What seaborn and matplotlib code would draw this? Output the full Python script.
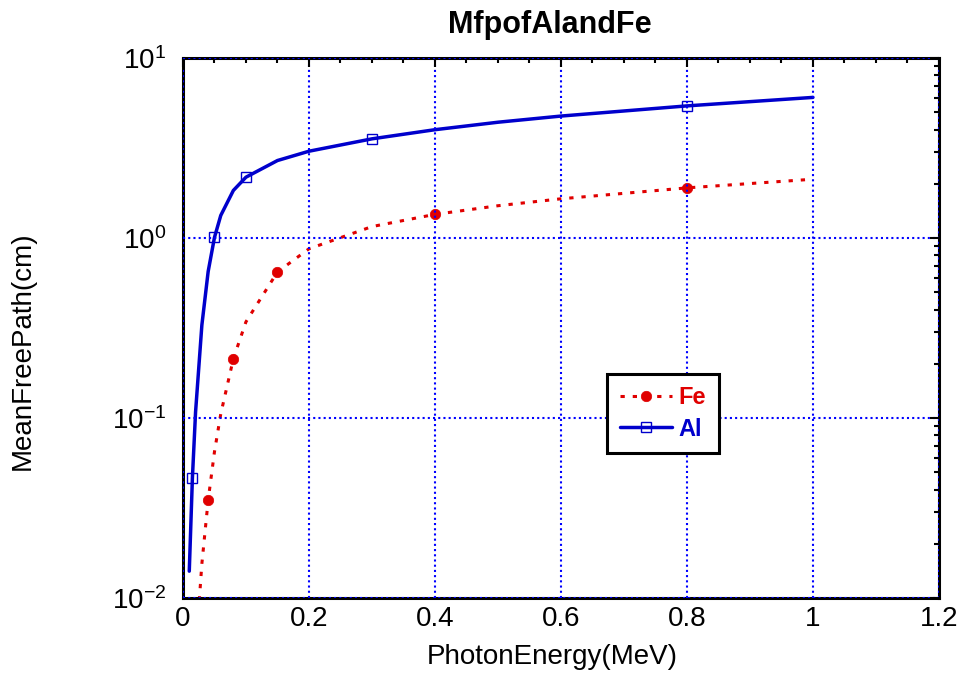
import numpy as np
import pandas as pd
import matplotlib
matplotlib.use("Agg")
import matplotlib.pyplot as plt
import seaborn as sns
from matplotlib.ticker import LogLocator, MultipleLocator, NullFormatter, FormatStrFormatter

# ---- data ----
energy = [0.01, 0.015, 0.02, 0.03, 0.04, 0.05, 0.06, 0.08, 0.1, 0.15,
          0.2, 0.3, 0.4, 0.5, 0.6, 0.8, 1.0]
mfp_al = [0.0141, 0.0466, 0.108, 0.328, 0.651, 1.006, 1.333, 1.835, 2.174,
          2.69, 3.03, 3.55, 3.99, 4.39, 4.75, 5.41, 6.03]
mfp_fe = [0.000745, 0.00223, 0.00495, 0.0155, 0.035, 0.0649, 0.1054, 0.2134,
          0.342, 0.647, 0.870, 1.156, 1.351, 1.509, 1.649, 1.896, 2.118]
al_marks = [1, 5, 8, 11, 15]
fe_marks = [4, 7, 9, 12, 15]
title = "MfpofAlandFe"
xlabel = "PhotonEnergy(MeV)"
ylabel = "MeanFreePath(cm)"
labels = ["Fe", "Al"]

sns.set_style("white")
plt.rcParams["font.family"] = ["Liberation Sans", "DejaVu Sans"]
plt.rcParams["mathtext.default"] = "regular"
plt.rcParams["axes.unicode_minus"] = False
plt.rcParams["text.color"] = "black"
plt.rcParams["axes.labelcolor"] = "black"
plt.rcParams["xtick.color"] = "black"
plt.rcParams["ytick.color"] = "black"

AL_C = "#0000cc"
FE_C = "#e00000"
GRID_C = "#0000ff"

df_al = pd.DataFrame({"energy": energy, "mfp": mfp_al})
df_fe = pd.DataFrame({"energy": energy, "mfp": mfp_fe})

fig = plt.figure(figsize=(9.63, 6.97), dpi=100)
ax = fig.add_axes([0.190, 0.142, 0.785, 0.775])

sns.lineplot(data=df_fe, x="energy", y="mfp", ax=ax, errorbar=None, sort=False,
             color=FE_C, linewidth=2.2, linestyle=(0, (1.4, 2.6)),
             marker="o", markevery=fe_marks, markersize=7.5,
             markerfacecolor=FE_C, markeredgecolor=FE_C, markeredgewidth=0.5)
sns.lineplot(data=df_al, x="energy", y="mfp", ax=ax, errorbar=None, sort=False,
             color=AL_C, linewidth=2.5,
             marker="s", markevery=al_marks, markersize=7,
             markerfacecolor="none", markeredgecolor=AL_C, markeredgewidth=1.0)

ax.set_yscale("log")
ax.set_xlim(0, 1.2)
ax.set_ylim(1e-2, 1e1)
ax.xaxis.set_major_locator(MultipleLocator(0.2))
ax.xaxis.set_minor_locator(MultipleLocator(0.05))
ax.xaxis.set_major_formatter(FormatStrFormatter("%g"))
ax.yaxis.set_major_locator(LogLocator(base=10, numticks=10))
ax.yaxis.set_minor_locator(LogLocator(base=10, subs=np.arange(2, 10), numticks=20))
ax.yaxis.set_minor_formatter(NullFormatter())

ax.grid(True, which="major", color=GRID_C, linestyle=(0, (1, 1.5)), linewidth=1.5)
ax.set_axisbelow(False)

ax.tick_params(which="both", direction="in", top=True, right=True, width=1.5,
               color="black")
ax.tick_params(which="major", length=6.5)
ax.tick_params(which="minor", length=3.6)
ax.tick_params(axis="x", which="major", labelsize=20, pad=6, labelcolor="black")
ax.tick_params(axis="y", which="major", labelsize=20, pad=12, labelcolor="black")

for s in ax.spines.values():
    s.set_visible(True)
    s.set_linewidth(2.2)
    s.set_color("black")

ax.set_title(title, fontsize=22, fontweight="bold", pad=18, color="black", x=0.485)
ax.set_xlabel(xlabel, fontsize=20, color="black")
ax.set_ylabel(ylabel, fontsize=20, color="black")
ax.xaxis.set_label_coords(0.488, -0.085)
ax.yaxis.set_label_coords(-0.195, 0.457)

lines = ax.get_lines()
handles = [lines[0], lines[1]]
leg = ax.legend(handles, labels, loc="upper left", bbox_to_anchor=(0.561, 0.415),
                borderaxespad=0, fancybox=False, framealpha=1, edgecolor="black",
                prop={"size": 17, "weight": "bold"}, handlelength=2.2,
                handletextpad=0.3, labelspacing=0.35, borderpad=0.53)
leg.get_frame().set_linewidth(2.2)
for t, c in zip(leg.get_texts(), [FE_C, AL_C]):
    t.set_color(c)

fig.savefig("out.png", dpi=100)
